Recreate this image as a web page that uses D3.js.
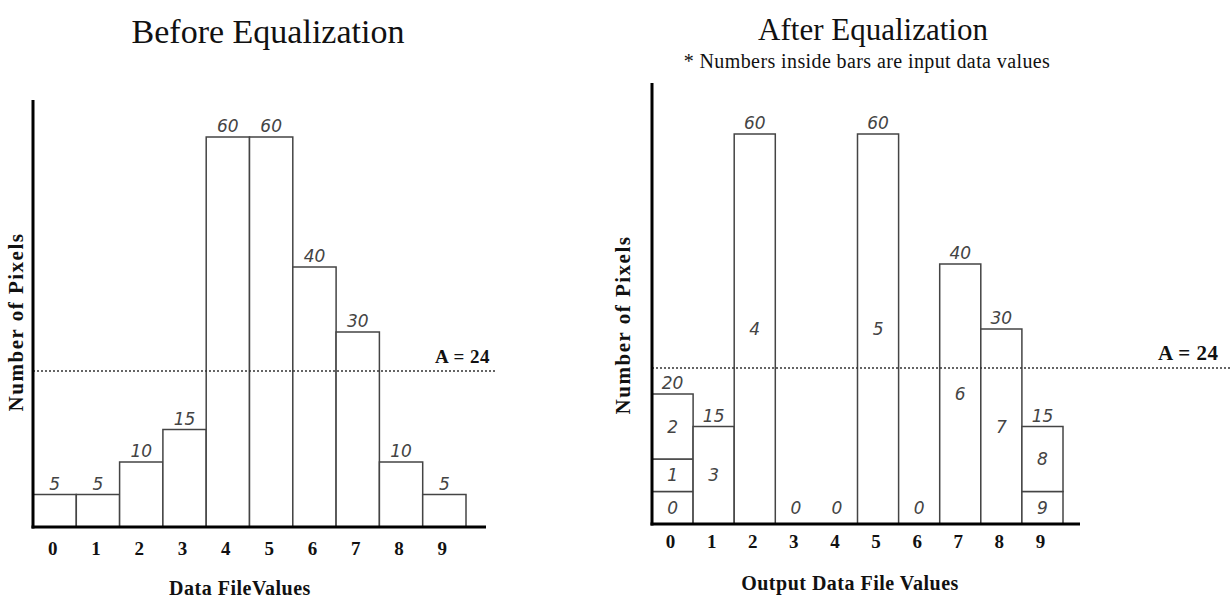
<!DOCTYPE html>
<html>
<head>
<meta charset="utf-8">
<script src="https://cdn.jsdelivr.net/npm/d3@7"></script>
<style>
  body { margin: 0; background: #fff; }
  svg { display: block; }
  .title { font-family: "Liberation Serif", "Times New Roman", serif; fill: #111; }
  .axis-title { font-family: "Liberation Serif", "Times New Roman", serif; font-weight: bold; fill: #111; }
  .tick text { font-family: "Liberation Serif", "Times New Roman", serif; font-weight: bold; font-size: 19px; fill: #111; }
  .val { font-family: "DejaVu Sans", sans-serif; font-style: italic; fill: #444; }
</style>
</head>
<body>
<svg id="chart" width="1230" height="599"></svg>
<script>
// Histogram data: data file values 0-9 and their pixel counts
const dataValues = [0, 1, 2, 3, 4, 5, 6, 7, 8, 9];
const beforeCounts = [5, 5, 10, 15, 60, 60, 40, 30, 10, 5];

// After equalization: output bins 0-9 and their pixel counts
const outputValues = [0, 1, 2, 3, 4, 5, 6, 7, 8, 9];
const afterCounts = [20, 15, 60, 0, 0, 60, 0, 40, 30, 15];

// Input values that fall into each output bin, [input value, pixel count], bottom to top
const afterSegments = [
  [[0, 5], [1, 5], [2, 10]],
  [[3, 15]],
  [[4, 60]],
  [],
  [],
  [[5, 60]],
  [],
  [[6, 40]],
  [[7, 30]],
  [[9, 5], [8, 10]]
];

const averageCount = 24;
const tickLabels = ["0", "1", "2", "3", "4", "5", "6", "7", "8", "9"];

const svg = d3.select("#chart");

function drawPanel(opt) {
  const g = svg.append("g");
  const x = d3.scaleBand().domain(opt.cats).range([opt.left, opt.right]).padding(0);
  const y = d3.scaleLinear().domain([0, 60]).range([opt.base, opt.top]);

  // Title(s)
  g.append("text").attr("class", "title")
    .attr("x", opt.titleX).attr("y", opt.titleY)
    .attr("text-anchor", "middle").style("font-size", opt.titleSize)
    .text(opt.title);
  if (opt.subtitle) {
    g.append("text").attr("class", "title")
      .attr("x", opt.titleX - 6).attr("y", opt.subY)
      .attr("text-anchor", "middle").style("font-size", "20px")
      .style("letter-spacing", "0.4px")
      .text(opt.subtitle);
  }

  // Bars
  if (opt.segments) {
    opt.segments.forEach((segs, i) => {
      let acc = 0;
      segs.forEach(([inVal, cnt]) => {
        const y0 = y(acc), y1 = y(acc + cnt);
        g.append("rect")
          .attr("x", x(opt.cats[i])).attr("width", x.bandwidth())
          .attr("y", y1).attr("height", y0 - y1)
          .attr("fill", "#fff").attr("stroke", "#444").attr("stroke-width", 1.5);
        g.append("text").attr("class", "val")
          .attr("x", x(opt.cats[i]) + x.bandwidth() / 2)
          .attr("y", (y0 + y1) / 2 + 6)
          .attr("text-anchor", "middle").style("font-size", "17px")
          .text(inVal);
        acc += cnt;
      });
    });
  } else {
    g.selectAll("rect.bar").data(opt.values).join("rect")
      .attr("class", "bar")
      .attr("x", (d, i) => x(opt.cats[i])).attr("width", x.bandwidth())
      .attr("y", d => y(d)).attr("height", d => opt.base - y(d))
      .attr("fill", "#fff").attr("stroke", "#444").attr("stroke-width", 1.5);
  }

  // Average reference line, drawn across the bars
  g.append("line")
    .attr("x1", opt.left).attr("x2", opt.dotEnd)
    .attr("y1", y(averageCount)).attr("y2", y(averageCount))
    .attr("stroke", "#333").attr("stroke-width", 1.5)
    .attr("stroke-dasharray", "2,2");
  g.append("text").attr("class", "axis-title")
    .attr("x", opt.avgX).attr("y", y(averageCount) - 8)
    .attr("text-anchor", "start").style("font-size", opt.avgSize)
    .style("letter-spacing", "0.5px")
    .text("A = " + averageCount);

  // Count labels above bars
  g.selectAll("text.count").data(opt.values).join("text")
    .attr("class", "val count")
    .attr("x", (d, i) => x(opt.cats[i]) + x.bandwidth() / 2)
    .attr("y", d => y(d) - (d === 0 ? 10 : 5))
    .attr("text-anchor", "middle").style("font-size", "17px")
    .text(d => d);

  // Axes frame
  g.append("line")
    .attr("x1", opt.left).attr("x2", opt.left)
    .attr("y1", opt.axisTop).attr("y2", opt.base + 1.5)
    .attr("stroke", "#000").attr("stroke-width", 3);
  g.append("line")
    .attr("x1", opt.left - 1.5).attr("x2", opt.axisRight)
    .attr("y1", opt.base).attr("y2", opt.base)
    .attr("stroke", "#000").attr("stroke-width", 3);

  // Category tick labels
  const axis = d3.axisBottom(x).tickSize(0).tickPadding(opt.tickPad)
    .tickFormat((d, i) => tickLabels[i]);
  const ag = g.append("g").attr("transform", `translate(-2,${opt.base})`).call(axis);
  ag.select(".domain").remove();

  // Axis titles
  g.append("text").attr("class", "axis-title")
    .attr("x", opt.xTitleX).attr("y", opt.xTitleY)
    .attr("text-anchor", "middle").style("font-size", "20px")
    .style("letter-spacing", "0.5px")
    .text(opt.xTitle);
  g.append("text").attr("class", "axis-title")
    .attr("transform", `translate(${opt.yTitleX},${opt.yTitleY}) rotate(-90)`)
    .attr("text-anchor", "middle").style("font-size", "21px")
    .style("letter-spacing", "1.5px")
    .text("Number of Pixels");
}

drawPanel({
  cats: dataValues, values: beforeCounts,
  left: 33, right: 466, base: 527, top: 137, axisTop: 100, axisRight: 486,
  dotEnd: 495, avgX: 435, avgSize: "19px",
  title: "Before Equalization", titleSize: "34px", titleX: 268, titleY: 43,
  xTitle: "Data FileValues", xTitleX: 240, xTitleY: 595,
  yTitleX: 23, yTitleY: 322, tickPad: 15
});

drawPanel({
  cats: outputValues, values: afterCounts, segments: afterSegments,
  left: 652, right: 1063, base: 524, top: 134, axisTop: 83, axisRight: 1080,
  dotEnd: 1230, avgX: 1158, avgSize: "21px",
  title: "After Equalization", titleSize: "31px",
  subtitle: "* Numbers inside bars are input data values",
  titleX: 873, titleY: 40, subY: 68,
  xTitle: "Output Data File Values", xTitleX: 850, xTitleY: 590,
  yTitleX: 630, yTitleY: 325, tickPad: 11
});
</script>
</body>
</html>
